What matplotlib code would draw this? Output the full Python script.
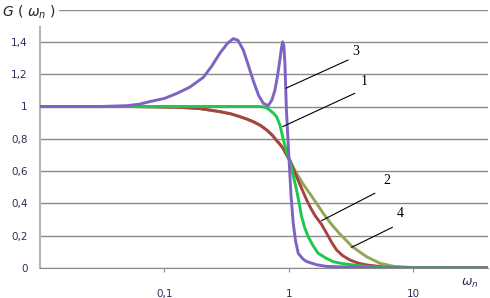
import matplotlib
matplotlib.use('Agg')
import matplotlib.pyplot as plt

# curve 1 (green)
w1 = [0.01, 0.1, 0.3, 0.5, 0.585, 0.65, 0.70, 0.748, 0.796, 0.847, 0.90, 0.958, 1.0,
      1.05, 1.1, 1.153, 1.21, 1.265, 1.34, 1.43, 1.56, 1.72, 2.0, 2.27, 2.7, 3.28,
      4.5, 6.0, 40.0]
g1 = [1.0, 1.0, 1.0, 1.0, 1.0, 0.995, 0.978, 0.96, 0.937, 0.885, 0.80, 0.72, 0.68,
      0.62, 0.55, 0.483, 0.40, 0.318, 0.25, 0.194, 0.14, 0.091, 0.06, 0.039, 0.027,
      0.019, 0.007, 0.002, 0.0]

# curve 2 (brown)
w2 = [0.01, 0.05, 0.08, 0.133, 0.193, 0.279, 0.34, 0.404, 0.46, 0.517, 0.59, 0.662,
      0.73, 0.796, 0.85, 0.90, 0.96, 1.02, 1.09, 1.153, 1.27, 1.39, 1.5, 1.62, 1.83,
      2.01, 2.2, 2.42, 2.7, 3.09, 3.6, 4.2, 6.0, 10.0, 40.0]
g2 = [1.0, 1.0, 0.998, 0.995, 0.987, 0.968, 0.955, 0.937, 0.922, 0.906, 0.883, 0.855,
      0.825, 0.79, 0.765, 0.74, 0.70, 0.665, 0.61, 0.565, 0.49, 0.421, 0.37, 0.325, 0.27,
      0.215, 0.16, 0.111, 0.077, 0.05, 0.03, 0.019, 0.005, 0.0, 0.0]

# curve 3 (purple)
w3 = [0.01, 0.03, 0.05, 0.0636, 0.076, 0.1, 0.125, 0.16, 0.205, 0.24, 0.279, 0.32,
      0.357, 0.39, 0.43, 0.47, 0.517, 0.57, 0.622, 0.682, 0.73, 0.772, 0.81, 0.847,
      0.87, 0.89, 0.91, 0.929, 0.955, 1.0, 1.04, 1.083, 1.13, 1.19, 1.3, 1.39, 1.67,
      2.0, 5.0, 40.0]
g3 = [1.0, 1.0, 1.005, 1.015, 1.03, 1.05, 1.08, 1.12, 1.18, 1.25, 1.33, 1.39,
      1.42, 1.41, 1.35, 1.26, 1.16, 1.07, 1.02, 1.005, 1.04, 1.10, 1.19, 1.29,
      1.36, 1.40, 1.38, 1.27, 0.98, 0.69, 0.45, 0.28, 0.17, 0.09, 0.055, 0.04, 0.02,
      0.01, 0.0, 0.0]

# curve 4 (olive)
w4 = [0.01, 0.05, 0.08, 0.133, 0.193, 0.279, 0.34, 0.404, 0.46, 0.517, 0.59, 0.662,
      0.73, 0.796, 0.85, 0.90, 0.96, 1.02, 1.09, 1.153, 1.3, 1.47, 1.67, 1.89, 2.2,
      2.57, 2.9, 3.19, 3.7, 4.21, 5.4, 7.0, 10.0, 40.0]
g4 = [1.0, 1.0, 0.998, 0.995, 0.987, 0.968, 0.955, 0.937, 0.922, 0.906, 0.883, 0.855,
      0.825, 0.79, 0.765, 0.74, 0.70, 0.665, 0.62, 0.586, 0.52, 0.462, 0.40, 0.338, 0.27,
      0.21, 0.17, 0.135, 0.10, 0.07, 0.029, 0.01, 0.003, 0.0]

yticks = [0, 0.2, 0.4, 0.6, 0.8, 1.0, 1.2, 1.4]
ytick_labels = ['0', '0,2', '0,4', '0,6', '0,8', '1', '1,2', '1,4']
xticks = [0.1, 1, 10]
xtick_labels = ['0,1', '1', '10']

# curve labels: (text, tip, line end, text pos)
callouts = [
    ('3', (0.946, 1.113), (2.99, 1.288), (3.2, 1.30)),
    ('1', (0.89, 0.875), (3.39, 1.082), (3.8, 1.115)),
    ('2', (1.83, 0.293), (4.91, 0.463), (5.7, 0.50)),
    ('4', (3.19, 0.128), (6.8, 0.252), (7.3, 0.30)),
]

fig = plt.figure(figsize=(4.9, 2.98), dpi=100)
ax = fig.add_axes([40 / 490, 1 - 268 / 298, 448 / 490, 258.4 / 298])

lw = 2.1
ax.plot(w4, g4, color='#93a657', lw=lw, zorder=3)
ax.plot(w2, g2, color='#a8443e', lw=lw, zorder=4)
ax.plot(w1, g1, color='#1ec84a', lw=lw, zorder=5)
ax.plot(w3, g3, color='#7f62c2', lw=lw, zorder=6)

ax.set_xscale('log')
ax.set_xlim(0.01, 10 ** 1.6)
ax.set_ylim(0, 1.6)

ax.set_yticks(yticks + [1.6])
ax.set_yticklabels(ytick_labels + [''])
ax.set_xticks(xticks)
ax.set_xticklabels(xtick_labels)
ax.minorticks_off()
ax.grid(axis='y', color='#8a8a8a', lw=1.0, zorder=1)
ax.tick_params(axis='y', length=0, pad=9, labelsize=7.5, labelcolor='#2e2e5e')
ax.tick_params(axis='x', direction='out', length=3, color='#8a8a8a', pad=12,
               labelsize=7.5, labelcolor='#2e2e5e')

for s in ['top', 'right']:
    ax.spines[s].set_visible(False)
ax.spines['bottom'].set_color('#8a8a8a')
ax.spines['left'].set_color('#b4b4b4')
ax.spines['left'].set_linewidth(1.5)
ax.spines['left'].set_bounds(0, 1.49)

for txt, tip, end, pos in callouts:
    ax.annotate('', xy=tip, xytext=end,
                arrowprops=dict(arrowstyle='-', lw=0.8, color='black',
                                shrinkA=0, shrinkB=0), zorder=7)
    ax.text(pos[0], pos[1], txt, fontsize=10, family='Liberation Serif',
            ha='left', va='bottom', zorder=7)

fig.text(2 / 490, 1 - 12 / 298, r'$G\ (\ \omega_n\ )$', fontsize=10, ha='left',
         va='center', color='#222222',
         bbox=dict(facecolor='white', edgecolor='none', pad=2))
fig.text(470 / 490, 1 - 283 / 298, r'$\omega_n$', fontsize=9, ha='center',
         va='center', color='#2e2e5e')

fig.savefig('out.png', dpi=100)
